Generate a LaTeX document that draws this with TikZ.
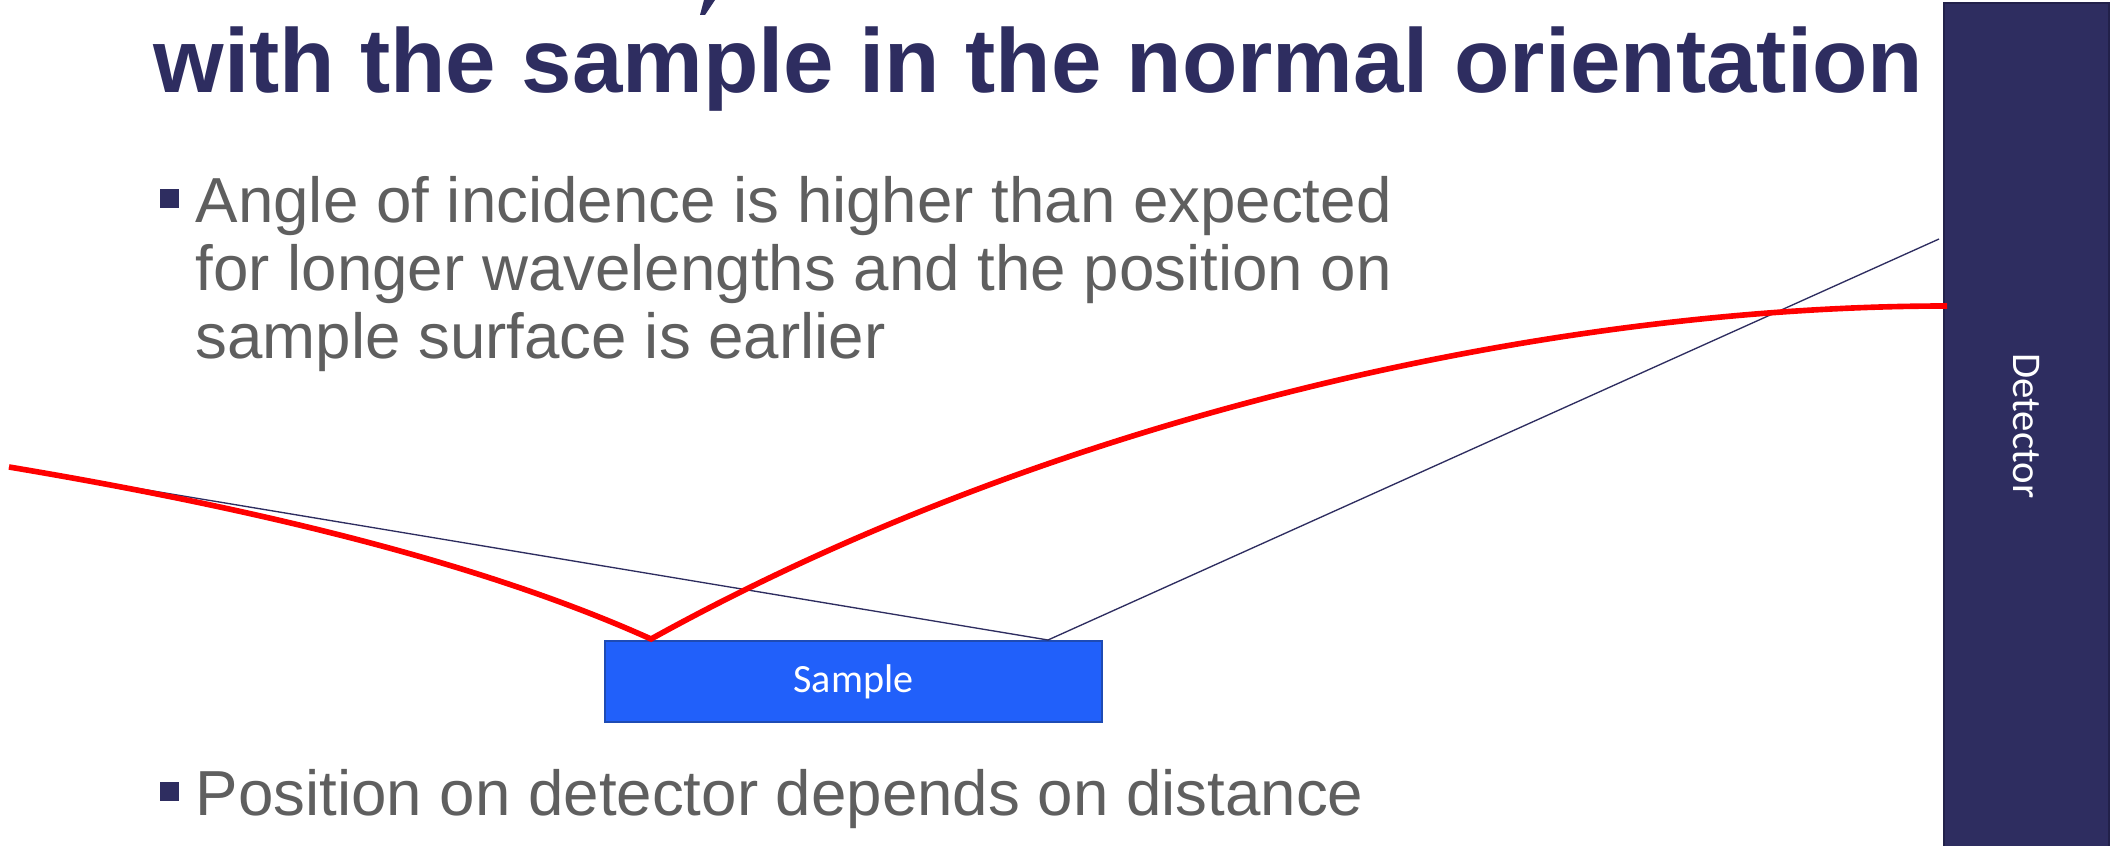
\documentclass[tikz,border=0pt]{standalone}
\usepackage{fontspec}
\setmainfont{Liberation Sans}
\newfontfamily\calibri{Carlito}
\definecolor{navy}{RGB}{46,45,96}
\definecolor{darknavy}{RGB}{34,33,74}
\definecolor{slidegrey}{RGB}{95,95,95}
\definecolor{sampleblue}{RGB}{33,96,250}
\definecolor{sampleedge}{RGB}{30,75,180}
\definecolor{beamred}{RGB}{255,0,0}

\tikzset{
  bulletbox/.style={rectangle, fill=navy, minimum size=0.19cm, inner sep=0pt},
  bodytext/.style={anchor=base west, align=left, inner sep=0pt, text=slidegrey,
    font=\fontsize{18.1}{19.2}\selectfont},
  samplebox/.style={rectangle, fill=sampleblue, draw=sampleedge, line width=0.6pt,
    text=white, font=\calibri\fontsize{11.4}{13.7}\selectfont},
  detectorbox/.style={rectangle, fill=navy, draw=darknavy, line width=0.6pt,
    text=white, font=\calibri\fontsize{11.6}{13.7}\selectfont},
  beam/.style={beamred, line width=1.6pt},
  ray/.style={navy, line width=0.38pt},
}

\begin{document}
\begin{tikzpicture}[x=0.01cm, y=-0.01cm]
  % page
  \fill[white] (0,0) rectangle (2116,846);
  \useasboundingbox (0,0) rectangle (2116,846);

  % title (first line is cut off by the page)
  \fill[navy] (704,0) -- (715,0) -- (705,15) -- (700,15) -- cycle;
  \node[anchor=base west, inner sep=0pt, text=navy,
    font=\fontsize{25.8}{28}\selectfont\bfseries] (title) at (153,93)
    {with the sample in the normal orientation};

  % bullets (base anchor sits on the last line)
  \node[bulletbox] (bulA) at (169.5,198.5) {};
  \node[bodytext] (txtA) at (195,358)
    {Angle of incidence is higher than expected\\
     for longer wavelengths and the position on\\
     sample surface is earlier};
  \node[bulletbox] (bulB) at (169.5,791.5) {};
  \node[bodytext] (txtB) at (195,815) {Position on detector depends on distance};

  % sample and detector
  \node[samplebox, minimum width=4.97cm, minimum height=0.81cm] (sample) at (853.5,681.5) {Sample};
  \node[detectorbox, rotate=-90, minimum width=8.46cm, minimum height=1.65cm] (detector) at (2026.5,426) {Detector};

  % ray points
  \coordinate (src) at (9,467);
  \coordinate (hitB) at (1048,640);
  \coordinate (detB) at (1939,239);
  \coordinate (hitR) at (651,639);
  \coordinate (detR) at (1947,306);

  % expected path (thin) and real path (red)
  \draw[ray] (src) -- (hitB) -- (detB);
  \draw[beam] (src) .. controls (284,513) and (498,570) .. (hitR)
    .. controls (1050,418) and (1547,306) .. (detR);
\end{tikzpicture}
\end{document}
